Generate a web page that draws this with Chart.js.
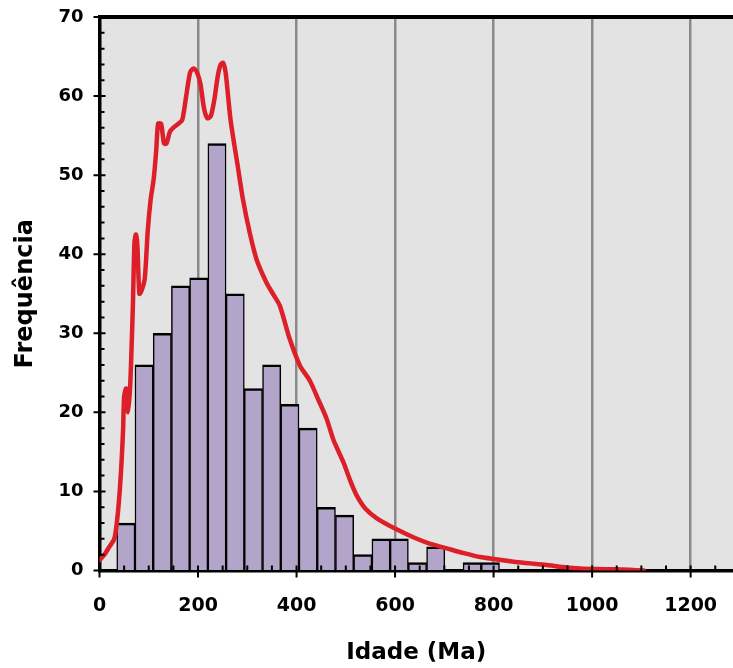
<!DOCTYPE html>
<html>
<head>
<meta charset="utf-8">
<script src="https://cdn.jsdelivr.net/npm/chart.js@4.4.1/dist/chart.umd.min.js"></script>
<style>
  html, body { margin: 0; padding: 0; background: #ffffff; }
  #wrap { width: 733px; height: 668px; }
</style>
</head>
<body>
<div id="wrap"><canvas id="c" width="733" height="668"></canvas></div>
<script>
// ---- data ----
const binCenters = [53.5, 90.5, 127.5, 164.5, 201.5, 238.5, 275.5, 312.5, 349.5, 386.5, 423.5,
                    460.5, 497.5, 534.5, 571.5, 608.5, 645.5, 682.5, 719.5, 756.5, 793.5];
const binCounts  = [6, 26, 30, 36, 37, 54, 35, 23, 26, 21, 18,
                    8, 7, 2, 4, 4, 1, 3, 0, 1, 1];

const kdeAges = [0, 10, 20, 30, 36, 41, 45, 48, 50, 54, 58, 62, 65, 68, 71, 74, 77, 81, 86, 92,
                 98, 104, 110, 115, 119, 125, 131, 136, 143, 150, 160, 168, 176, 184, 191, 198,
                 205, 212, 219, 226, 233, 240, 246, 251, 256, 261, 266, 272, 281, 291, 305, 319,
                 339, 352, 366, 386, 407, 427, 445, 461, 475, 495, 510, 522, 540, 563, 600, 637,
                 670, 705, 740, 773, 808, 841, 875, 908, 940, 976, 1010, 1044, 1075, 1105];
const kdeFreq = [1.3, 2.0, 3.0, 4.0, 6.5, 10, 14, 18, 22, 23, 20, 23, 28, 34, 41.5, 42.5, 41, 35, 35.5, 37,
                 43, 47, 49.5, 53, 56.5, 56.5, 54, 54, 55.5, 56, 56.5, 57, 60, 63, 63.5, 63,
                 61.5, 58.5, 57.2, 57.5, 59.5, 62.5, 64, 64.2, 63, 60, 57, 54.5, 51, 47, 42.7, 39.3,
                 36.4, 35, 33.5, 29.3, 25.9, 24, 21.5, 19.2, 16.5, 13.7, 11.2, 9.5, 7.8, 6.6, 5.3, 4.2,
                 3.4, 2.8, 2.2, 1.7, 1.4, 1.1, 0.9, 0.7, 0.45, 0.25, 0.18, 0.15, 0.08, 0.0];

const xMin = 0, xMax = 1286, xMajorStep = 200, xMinorStep = 50;
const yMin = 0, yMax = 70, yMajorStep = 10, yMinorStep = 2;
const xTitle = 'Idade (Ma)';
const yTitle = 'Frequência';

const FONT = "'DejaVu Sans', 'Liberation Sans', sans-serif";
const CLEAR = 'rgba(0,0,0,0)';

const barData = binCenters.map((c, i) => ({ x: c, y: binCounts[i] }));
const lineData = kdeAges.map((a, i) => ({ x: a, y: kdeFreq[i] }));

const bgPlugin = {
  id: 'areaBg',
  beforeDraw(chart) {
    const { ctx, chartArea: a } = chart;
    ctx.save();
    ctx.fillStyle = '#e3e3e3';
    ctx.fillRect(a.left, a.top, a.right - a.left, a.bottom - a.top);
    ctx.restore();
  }
};

const tickPlugin = {
  id: 'ticksFrame',
  afterDraw(chart) {
    const { ctx, chartArea: a } = chart;
    const xs = chart.scales.x, ys = chart.scales.y;
    ctx.save();
    ctx.strokeStyle = '#000';
    ctx.lineWidth = 2;
    ctx.beginPath();
    for (let v = xMin; v <= xMax; v += xMinorStep) {
      const px = xs.getPixelForValue(v);
      if (v % xMajorStep === 0) { ctx.moveTo(px, a.bottom - 5); ctx.lineTo(px, a.bottom + 7); }
      else { ctx.moveTo(px, a.bottom - 5); ctx.lineTo(px, a.bottom + 1); }
    }
    for (let v = yMin; v <= yMax; v += yMinorStep) {
      const py = ys.getPixelForValue(v);
      if (v % yMajorStep === 0) { ctx.moveTo(a.left - 6, py); ctx.lineTo(a.left + 6, py); }
      else { ctx.moveTo(a.left - 1, py); ctx.lineTo(a.left + 5, py); }
    }
    ctx.stroke();
    // top frame line
    ctx.lineWidth = 4;
    ctx.beginPath();
    ctx.moveTo(a.left - 1.5, a.top);
    ctx.lineTo(a.right, a.top);
    ctx.stroke();
    ctx.restore();
  }
};

new Chart(document.getElementById('c'), {
  type: 'bar',
  data: {
    datasets: [
      {
        type: 'line',
        data: lineData,
        borderColor: '#dc1f28',
        borderWidth: 4.5,
        pointRadius: 0,
        tension: 0.25,
        fill: false,
        borderJoinStyle: 'round',
        borderCapStyle: 'round',
        order: 0
      },
      {
        type: 'bar',
        data: barData,
        backgroundColor: '#b3a4c9',
        borderColor: '#000000',
        borderWidth: { top: 2.5, left: 1.5, right: 1.5, bottom: 0 },
        borderSkipped: false,
        barPercentage: 1,
        categoryPercentage: 1,
        order: 1
      }
    ]
  },
  options: {
    responsive: false,
    animation: false,
    events: [],
    layout: { padding: { top: 17, right: 0, bottom: 0, left: 0 } },
    plugins: { legend: { display: false }, tooltip: { enabled: false } },
    scales: {
      x: {
        type: 'linear',
        min: xMin, max: xMax,
        offset: false,
        afterFit(scale) { scale.height = 97.5; },
        grid: {
          offset: false,
          drawTicks: true,
          tickLength: 24,
          tickColor: CLEAR,
          color: '#8a8a8a',
          lineWidth: 2.5
        },
        border: { display: true, color: '#000', width: 3.5 },
        ticks: {
          stepSize: xMajorStep,
          includeBounds: false,
          padding: 0,
          color: '#000',
          maxRotation: 0,
          callback: (v) => String(v),
          font: { family: FONT, size: 19, weight: 'bold' }
        },
        title: {
          display: true,
          text: xTitle,
          color: '#000',
          padding: { top: 0, bottom: 1 },
          font: { family: FONT, size: 23, weight: 'bold' }
        }
      },
      y: {
        min: yMin, max: yMax,
        afterFit(scale) { scale.width = 99.5; },
        grid: { display: true, drawOnChartArea: false, drawTicks: true, tickLength: 16, tickColor: CLEAR, color: CLEAR },
        border: { display: true, color: '#000', width: 3.5 },
        ticks: {
          stepSize: yMajorStep,
          padding: 0,
          color: '#000',
          callback: (v) => String(v),
          font: { family: FONT, size: 18, weight: 'bold' }
        },
        title: {
          display: true,
          text: yTitle,
          color: '#000',
          padding: { top: 11, bottom: 0 },
          font: { family: FONT, size: 24, weight: 'bold' }
        }
      }
    }
  },
  plugins: [bgPlugin, tickPlugin]
});
</script>
</body>
</html>
